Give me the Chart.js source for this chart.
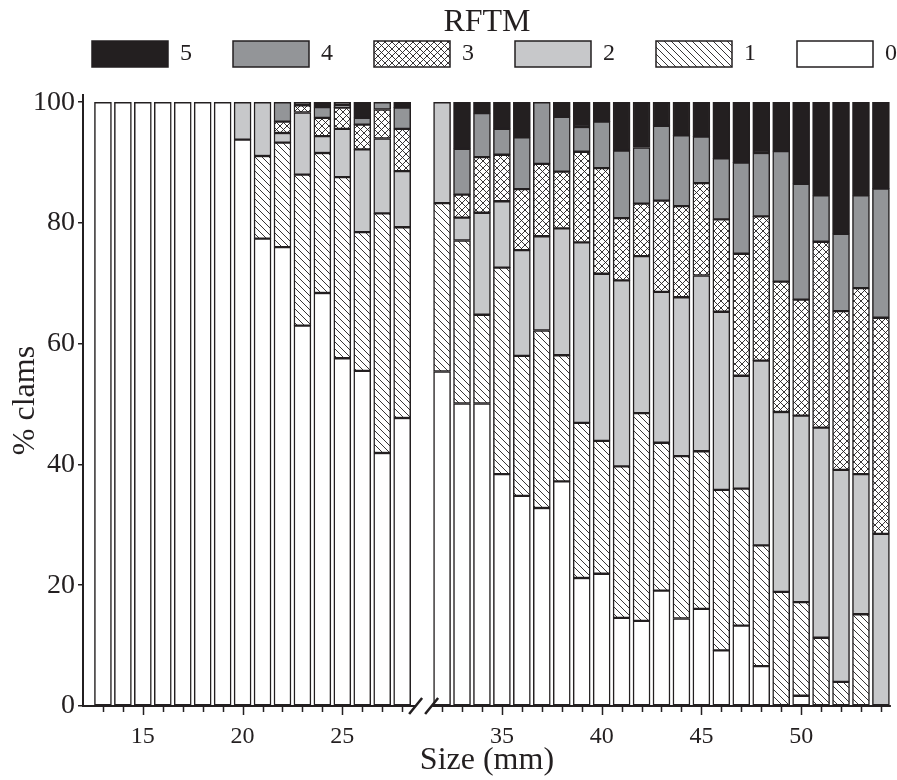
<!DOCTYPE html>
<html>
<head>
<meta charset="utf-8">
<title>RFTM by size</title>
<script src="https://cdn.jsdelivr.net/npm/chart.js@4.4.1/dist/chart.umd.min.js"></script>
<style>
  html, body { margin: 0; padding: 0; background: #fff; }
  #wrap { width: 897px; height: 780px; }
  canvas { display: block; }
</style>
</head>
<body>
<div id="wrap"><canvas id="rftmChart" width="897" height="780"></canvas></div>
<script>
// shell length classes (mm); the axis is broken between 28 and 32
const sizes = [13, 14, 15, 16, 17, 18, 19, 20, 21, 22, 23, 24, 25, 26, 27, 28,
  32, 33, 34, 35, 36, 37, 38, 39, 40, 41, 42, 43, 44, 45, 46, 47, 48, 49, 50, 51, 52, 53, 54];

// % of clams in each RFTM stage, one value per size class
const rftm0 = [100, 100, 100, 100, 100, 100, 100, 93.8, 77.4, 76.0, 63.0, 68.4, 57.6, 55.5, 41.9, 47.7,
  55.4, 50.1, 50.1, 38.4, 34.8, 32.8, 37.2, 21.2, 21.9, 14.6, 14.1, 19.1, 14.5, 16.1, 9.2, 13.3, 6.6, 0, 1.7, 0, 0, 0, 0];
const rftm1 = [0, 0, 0, 0, 0, 0, 0, 0, 13.7, 17.3, 25.0, 23.2, 30.0, 23.0, 39.7, 31.6,
  27.9, 27.0, 14.7, 34.2, 23.2, 29.4, 20.9, 25.7, 22.0, 25.1, 34.4, 24.5, 26.9, 26.1, 26.6, 22.7, 20.0, 18.9, 15.5, 11.3, 4.0, 15.2, 0];
const rftm2 = [0, 0, 0, 0, 0, 0, 0, 6.2, 8.9, 1.6, 10.3, 2.8, 8.0, 13.7, 12.4, 9.3,
  16.7, 3.8, 16.9, 11.0, 17.5, 15.6, 21.0, 29.9, 27.7, 30.8, 26.0, 25.0, 26.3, 29.1, 29.5, 18.7, 30.6, 29.8, 30.9, 34.8, 35.1, 23.2, 28.5];
const rftm3 = [0, 0, 0, 0, 0, 0, 0, 0, 0, 1.9, 1.2, 3.0, 3.5, 4.1, 4.8, 7.0,
  0, 3.8, 9.2, 7.7, 10.1, 12.0, 9.4, 15.0, 17.5, 10.3, 8.7, 15.1, 15.1, 15.3, 15.3, 20.2, 23.9, 21.6, 19.2, 30.8, 26.3, 30.8, 35.8];
const rftm4 = [0, 0, 0, 0, 0, 0, 0, 0, 0, 3.2, 0, 1.8, 0.4, 1.1, 1.2, 3.5,
  0, 7.6, 7.3, 4.3, 8.6, 10.2, 9.1, 4.1, 7.7, 11.2, 9.3, 12.4, 11.7, 7.7, 10.1, 15.1, 10.5, 21.6, 19.2, 7.7, 12.8, 15.4, 21.4];
const rftm5 = [0, 0, 0, 0, 0, 0, 0, 0, 0, 0, 0.5, 0.8, 0.5, 2.6, 0, 0.9,
  0, 7.7, 1.8, 4.4, 5.8, 0, 2.4, 4.1, 3.2, 8.0, 7.5, 3.9, 5.5, 5.7, 9.3, 10.0, 8.4, 8.1, 13.5, 15.4, 21.8, 15.4, 14.3];

const stageLabels = ['0', '1', '2', '3', '4', '5'];
const xTickLabels = [15, 20, 25, 35, 40, 45, 50];
const yTicks = [0, 20, 40, 60, 80, 100];
const breakAfter = 28;
const breakGap = 2;

const ink = '#231f20';
const axisPos = mm => (mm > breakAfter ? mm - breakGap : mm);
const axisToMm = v => (v > breakAfter + 0.5 ? v + breakGap : v);

function makePattern(cross) {
  const n = 7;
  const c = document.createElement('canvas');
  c.width = n;
  c.height = n;
  const g = c.getContext('2d');
  g.fillStyle = '#fff';
  g.fillRect(0, 0, n, n);
  g.strokeStyle = ink;
  g.lineWidth = 0.9;
  g.beginPath();
  [-n, 0, n].forEach(k => {
    g.moveTo(0, k);
    g.lineTo(n, n + k);
    if (cross) {
      g.moveTo(0, n + k);
      g.lineTo(n, k);
    }
  });
  g.stroke();
  return g.createPattern(c, 'repeat');
}

document.addEventListener('DOMContentLoaded', () => {
  Chart.defaults.font.family = "'Liberation Serif', 'Times New Roman', serif";
  Chart.defaults.color = ink;

  const stageValues = [rftm0, rftm1, rftm2, rftm3, rftm4, rftm5];
  const fills = ['#ffffff', makePattern(false), '#c7c8ca', makePattern(true), '#939598', ink];

  const datasets = stageValues.map((vals, i) => ({
    label: stageLabels[i],
    data: sizes.map((s, j) => ({ x: axisPos(s), y: vals[j] })),
    backgroundColor: fills[i],
    borderColor: ink,
    borderWidth: 1.5,
    borderSkipped: false,
    barThickness: 17
  }));

  // x axis line, tick marks and the // break
  const axisBreak = {
    id: 'axisBreak',
    afterDraw(chart) {
      const { ctx, chartArea } = chart;
      const x = chart.scales.x;
      const y0 = chartArea.bottom;
      const mid = x.getPixelForValue(breakAfter + 1);
      ctx.save();
      ctx.strokeStyle = ink;
      ctx.lineWidth = 2;
      ctx.beginPath();
      ctx.moveTo(chartArea.left - 1, y0);
      ctx.lineTo(mid - 7, y0);
      ctx.moveTo(mid + 10, y0);
      ctx.lineTo(chartArea.right, y0);
      ctx.stroke();
      ctx.lineWidth = 1.5;
      ctx.beginPath();
      sizes.forEach(s => {
        const px = Math.round(x.getPixelForValue(axisPos(s))) + 0.5;
        ctx.moveTo(px, y0);
        ctx.lineTo(px, y0 + (s % 5 === 0 ? 9 : 6));
      });
      ctx.stroke();
      ctx.lineWidth = 2.5;
      ctx.beginPath();
      [mid - 6.5, mid + 9.5].forEach(cx => {
        ctx.moveTo(cx - 6.5, y0 + 8);
        ctx.lineTo(cx + 6.5, y0 - 8);
      });
      ctx.stroke();
      ctx.restore();
    }
  };

  // the legend row in the original runs past the right edge
  const legendPlace = {
    id: 'legendPlace',
    afterLayout(chart) {
      chart.legend.left = 51;
      chart.legend.right = chart.width + 300;
    }
  };

  new Chart(document.getElementById('rftmChart'), {
    type: 'bar',
    data: { datasets },
    options: {
      responsive: false,
      animation: false,
      layout: { padding: { right: 4 } },
      plugins: {
        tooltip: { enabled: false },
        title: {
          display: true,
          text: 'RFTM',
          fullSize: false,
          weight: 2000,
          color: ink,
          font: { size: 32, weight: 'normal' },
          padding: { top: 3, bottom: -41.4 }
        },
        subtitle: {
          display: true,
          text: '',
          weight: 500,
          font: { size: 10 },
          padding: { top: 0, bottom: 6 }
        },
        legend: {
          position: 'top',
          reverse: true,
          align: 'start',
          labels: {
            boxWidth: 76,
            boxHeight: 26,
            padding: 41,
            color: ink,
            font: { size: 24 }
          }
        }
      },
      scales: {
        x: {
          type: 'linear',
          stacked: true,
          offset: false,
          min: 12,
          max: 52.5,
          grid: { display: false, drawTicks: false },
          border: { display: false },
          afterBuildTicks: s => { s.ticks = sizes.map(v => ({ value: axisPos(v) })); },
          afterFit: s => { s.height = 74; },
          ticks: {
            autoSkip: false,
            maxRotation: 0,
            padding: 16,
            color: ink,
            font: { size: 24 },
            callback: v => (xTickLabels.includes(axisToMm(v)) ? String(axisToMm(v)) : '')
          },
          title: {
            display: true,
            text: 'Size (mm)',
            color: ink,
            font: { size: 32 },
            padding: { top: 0, bottom: 0 }
          }
        },
        y: {
          stacked: true,
          min: 0,
          max: 101.2,
          afterBuildTicks: s => { s.ticks = yTicks.map(v => ({ value: v })); },
          afterFit: s => { s.width = 83; },
          grid: { drawOnChartArea: false, tickLength: 5, color: ink, lineWidth: 1.5 },
          border: { display: true, color: ink, width: 2 },
          ticks: { padding: 3, color: ink, font: { size: 28 } },
          title: {
            display: true,
            text: '% clams',
            color: ink,
            font: { size: 32 },
            padding: { top: 6, bottom: 0 }
          }
        }
      }
    },
    plugins: [axisBreak, legendPlace]
  });
});
</script>
</body>
</html>
